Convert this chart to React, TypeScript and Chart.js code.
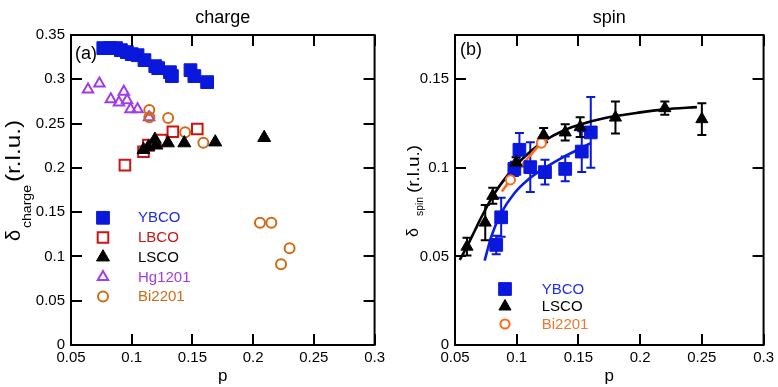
import React, { useEffect, useRef } from "react";
import { Chart, registerables } from "chart.js";

Chart.register(...registerables);

const FONT = "'Liberation Sans', Arial, Helvetica, sans-serif";

// ---------- axis ticks ----------
const pTicks = [0.05, 0.1, 0.15, 0.2, 0.25, 0.3];
const chargeTicks = [0, 0.05, 0.1, 0.15, 0.2, 0.25, 0.3, 0.35];
const spinTicks = [0, 0.05, 0.1, 0.15];

// ---------- panel (a): charge ----------
const ybcoChargeP = [0.0766, 0.0823, 0.0871, 0.0911, 0.096, 0.1, 0.1048, 0.1105, 0.1194, 0.1218, 0.1315, 0.1331, 0.1484, 0.1516, 0.1621];
const ybcoChargeD = [0.3352, 0.3352, 0.3352, 0.3329, 0.3307, 0.3284, 0.3272, 0.3216, 0.3148, 0.3126, 0.308, 0.3036, 0.3103, 0.3036, 0.2968];
const lbcoChargeP = [0.0944, 0.1097, 0.1137, 0.1244, 0.1339, 0.154];
const lbcoChargeD = [0.2031, 0.2182, 0.2257, 0.2314, 0.2407, 0.2438];
const lscoChargeP = [0.1097, 0.1137, 0.1191, 0.1204, 0.1298, 0.1433, 0.1688, 0.2091];
const lscoChargeD = [0.2205, 0.2235, 0.232, 0.2255, 0.228, 0.228, 0.229, 0.234];
const hgChargeP = [0.064, 0.0734, 0.0828, 0.0895, 0.0935, 0.0962, 0.099, 0.1048, 0.1143];
const hgChargeD = [0.2886, 0.2953, 0.2775, 0.2739, 0.2858, 0.2764, 0.2663, 0.2663, 0.257];
const biChargeP = [0.1145, 0.1145, 0.13, 0.144, 0.159, 0.2056, 0.215, 0.223, 0.23];
const biChargeD = [0.2652, 0.2572, 0.2562, 0.2403, 0.2284, 0.138, 0.138, 0.0911, 0.1092];

// ---------- panel (b): spin ----------
const ybcoSpinP = [0.0834, 0.0874, 0.0981, 0.1022, 0.111, 0.1229, 0.1393, 0.1527, 0.16];
const ybcoSpinD = [0.0565, 0.0721, 0.0994, 0.1102, 0.1004, 0.0976, 0.0994, 0.1092, 0.12];
const ybcoSpinErr = [0.0052, 0.011, 0.004, 0.0095, 0.014, 0.007, 0.007, 0.0115, 0.02];
const lscoSpinP = [0.0597, 0.0745, 0.0806, 0.0995, 0.1218, 0.1393, 0.1514, 0.18, 0.22, 0.25];
const lscoSpinD = [0.0555, 0.0691, 0.0842, 0.103, 0.1185, 0.12, 0.123, 0.1284, 0.1337, 0.1275];
const lscoSpinErr = [0.005, 0.01, 0.0045, 0.003, 0.004, 0.0046, 0.0056, 0.009, 0.0037, 0.009];
const biSpinP = [0.0949, 0.12];
const biSpinD = [0.0932, 0.114];

// fitted guide curves
const lscoFitP = [0.0538, 0.06, 0.066, 0.0713, 0.0806, 0.09, 0.0995, 0.1116, 0.1218, 0.1393, 0.1514, 0.1707, 0.2, 0.22, 0.246];
const lscoFitD = [0.048, 0.056, 0.0645, 0.072, 0.084, 0.0935, 0.1015, 0.1095, 0.115, 0.1215, 0.1245, 0.128, 0.1313, 0.133, 0.1343];
const ybcoFitP = [0.074, 0.0794, 0.0874, 0.0981, 0.1089, 0.1223, 0.1385, 0.152, 0.16];
const ybcoFitD = [0.0476, 0.0612, 0.0744, 0.0857, 0.0932, 0.0998, 0.1064, 0.1111, 0.114];
const biFitP = [0.0879, 0.0949, 0.1075, 0.12, 0.125];
const biFitD = [0.0866, 0.0932, 0.1042, 0.114, 0.1168];

// ---------- colours ----------
const BLUE = "#0a18dc";
const RED = "#cc1414";
const PURPLE = "#a23ce6";
const ORANGE = "#d26a14";
const ORANGE2 = "#ff6a1a";
const BLACK = "#000000";

type Marker = { style: "rect" | "triangle" | "circle"; r: number; fill: string | null; stroke: string; lw: number };

const mYbcoA: Marker = { style: "rect", r: 9, fill: BLUE, stroke: BLUE, lw: 1 };
const mLbcoA: Marker = { style: "rect", r: 7.5, fill: null, stroke: RED, lw: 2 };
const mLscoA: Marker = { style: "triangle", r: 7.5, fill: BLACK, stroke: BLACK, lw: 1 };
const mHgA: Marker = { style: "triangle", r: 6, fill: null, stroke: PURPLE, lw: 2 };
const mBiA: Marker = { style: "circle", r: 5, fill: null, stroke: ORANGE, lw: 2 };
const mYbcoB: Marker = { style: "rect", r: 9, fill: BLUE, stroke: BLUE, lw: 1 };
const mLscoB: Marker = { style: "triangle", r: 7, fill: BLACK, stroke: BLACK, lw: 1 };
const mBiB: Marker = { style: "circle", r: 4.6, fill: "#ffffff", stroke: ORANGE2, lw: 2 };

const fmt = (v: any) => String(parseFloat(Number(v).toFixed(3)));
const pts = (xs: number[], ys: number[]) => xs.map((x, i) => ({ x, y: ys[i] }));

function pointDataset(label: string, xs: number[], ys: number[], m: Marker, order: number, errs?: number[], errColor?: string) {
  return {
    type: "scatter",
    label,
    data: pts(xs, ys),
    pointStyle: m.style,
    pointRadius: m.r,
    pointHoverRadius: m.r,
    pointBackgroundColor: m.fill || "rgba(0,0,0,0)",
    pointBorderColor: m.stroke,
    pointBorderWidth: m.lw,
    showLine: false,
    order,
    errors: errs,
    errColor,
  } as any;
}

function lineDataset(label: string, xs: number[], ys: number[], color: string, order: number) {
  return {
    type: "line",
    label,
    data: pts(xs, ys),
    borderColor: color,
    borderWidth: 2.6,
    pointRadius: 0,
    showLine: true,
    fill: false,
    cubicInterpolationMode: "monotone",
    order,
  } as any;
}

function drawMarker(ctx: CanvasRenderingContext2D, m: Marker, x: number, y: number) {
  ctx.save();
  ctx.beginPath();
  if (m.style === "rect") {
    const s = Math.SQRT1_2 * m.r;
    ctx.rect(x - s, y - s, 2 * s, 2 * s);
  } else if (m.style === "triangle") {
    for (let i = 0; i < 3; i++) {
      const a = (i * 2 * Math.PI) / 3;
      const px = x + Math.sin(a) * m.r;
      const py = y - Math.cos(a) * m.r;
      if (i === 0) ctx.moveTo(px, py);
      else ctx.lineTo(px, py);
    }
    ctx.closePath();
  } else {
    ctx.arc(x, y, m.r, 0, Math.PI * 2);
  }
  if (m.fill) {
    ctx.fillStyle = m.fill;
    ctx.fill();
  }
  ctx.lineWidth = m.lw;
  ctx.strokeStyle = m.stroke;
  ctx.stroke();
  ctx.restore();
}

type LegendItem = { label: string; color: string; marker: Marker };
type Piece = { text: string; size: number; start: number; end?: number; base: number };
type PanelCfg = {
  title: string;
  tag: string;
  tagX: number;
  tagY: number;
  legend: LegendItem[];
  legendMarkerX: number;
  legendTextX: number;
  legendY: number;
  legendStep: number;
  yTitle: Piece[];
};

function makeDecorPlugin(cfg: PanelCfg) {
  return {
    id: "decor",
    beforeDatasetsDraw(chart: any) {
      const { ctx, scales } = chart;
      const xs = scales.x;
      const ys = scales.y;
      ctx.save();
      chart.data.datasets.forEach((ds: any) => {
        if (!ds.errors) return;
        ctx.strokeStyle = ds.errColor || "#000";
        ctx.lineWidth = 2;
        ctx.beginPath();
        ds.data.forEach((p: any, i: number) => {
          const e = ds.errors[i];
          const px = xs.getPixelForValue(p.x);
          const y1 = ys.getPixelForValue(p.y + e);
          const y2 = ys.getPixelForValue(p.y - e);
          ctx.moveTo(px, y1);
          ctx.lineTo(px, y2);
          ctx.moveTo(px - 4.5, y1);
          ctx.lineTo(px + 4.5, y1);
          ctx.moveTo(px - 4.5, y2);
          ctx.lineTo(px + 4.5, y2);
        });
        ctx.stroke();
      });
      ctx.restore();
    },
    afterDraw(chart: any) {
      const { ctx, chartArea: a, scales } = chart;
      const xs = scales.x;
      const ys = scales.y;
      ctx.save();
      // frame with inward ticks
      ctx.strokeStyle = "#000";
      ctx.lineWidth = 2;
      ctx.strokeRect(a.left, a.top, a.right - a.left, a.bottom - a.top);
      const L = 11;
      ctx.beginPath();
      xs.ticks.forEach((t: any) => {
        const px = Math.round(xs.getPixelForValue(t.value));
        ctx.moveTo(px, a.bottom);
        ctx.lineTo(px, a.bottom - L);
        ctx.moveTo(px, a.top);
        ctx.lineTo(px, a.top + L);
      });
      ys.ticks.forEach((t: any) => {
        const py = Math.round(ys.getPixelForValue(t.value));
        ctx.moveTo(a.left, py);
        ctx.lineTo(a.left + L, py);
        ctx.moveTo(a.right, py);
        ctx.lineTo(a.right - L, py);
      });
      ctx.stroke();

      // title
      ctx.fillStyle = "#000";
      ctx.textAlign = "center";
      ctx.textBaseline = "alphabetic";
      ctx.font = `18px ${FONT}`;
      ctx.fillText(cfg.title, (a.left + a.right) / 2, 22.5);

      // panel tag
      ctx.textAlign = "left";
      ctx.fillText(cfg.tag, cfg.tagX, cfg.tagY);

      // legend
      ctx.font = `15px ${FONT}`;
      ctx.textBaseline = "middle";
      cfg.legend.forEach((it, i) => {
        const y = cfg.legendY + i * cfg.legendStep;
        drawMarker(ctx, it.marker, cfg.legendMarkerX, y);
        ctx.fillStyle = it.color;
        ctx.fillText(it.label, cfg.legendTextX, y + 0.5);
      });

      // rotated y-axis title with subscript
      ctx.fillStyle = "#000";
      ctx.textBaseline = "alphabetic";
      cfg.yTitle.forEach((pc) => {
        ctx.save();
        ctx.translate(pc.base, pc.start);
        ctx.rotate(-Math.PI / 2);
        ctx.font = `${pc.size}px ${FONT}`;
        if (pc.end !== undefined) {
          const w = ctx.measureText(pc.text).width;
          ctx.scale((pc.start - pc.end) / w, 1);
        }
        ctx.fillText(pc.text, 0, 0);
        ctx.restore();
      });
      ctx.restore();
    },
  };
}

function makeScales(yTicks: number[], yMax: number, yWidth: number) {
  const tickFont = { family: FONT, size: 15 };
  return {
    x: {
      type: "linear",
      min: 0.05,
      max: 0.3,
      afterBuildTicks: (s: any) => {
        s.ticks = pTicks.map((v) => ({ value: v }));
      },
      afterFit: (s: any) => {
        s.height = 42;
      },
      grid: { display: false, drawTicks: false },
      border: { display: false },
      ticks: { color: "#000", font: tickFont, padding: 4, maxRotation: 0, autoSkip: false, callback: fmt },
      title: {
        display: true,
        text: "p",
        color: "#000",
        font: { family: FONT, size: 17, lineHeight: 1.3 },
        padding: { top: 0, bottom: 0 },
      },
    },
    y: {
      type: "linear",
      min: 0,
      max: yMax,
      afterBuildTicks: (s: any) => {
        s.ticks = yTicks.map((v) => ({ value: v }));
      },
      afterFit: (s: any) => {
        s.width = yWidth;
      },
      grid: { display: false, drawTicks: false },
      border: { display: false },
      ticks: { color: "#000", font: tickFont, padding: 6, autoSkip: false, callback: fmt },
    },
  };
}

function chargeConfig(): any {
  const cfg: PanelCfg = {
    title: "charge",
    tag: "(a)",
    tagX: 75,
    tagY: 58.5,
    legend: [
      { label: "YBCO", color: "#1e2ee6", marker: mYbcoA },
      { label: "LBCO", color: RED, marker: mLbcoA },
      { label: "LSCO", color: "#000", marker: mLscoA },
      { label: "Hg1201", color: PURPLE, marker: mHgA },
      { label: "Bi2201", color: ORANGE, marker: mBiA },
    ],
    legendMarkerX: 103,
    legendTextX: 138,
    legendY: 217.8,
    legendStep: 19.7,
    yTitle: [
      { text: "δ", size: 20, start: 241, base: 19.5 },
      { text: "charge", size: 12, start: 228, end: 185, base: 30.5 },
      { text: "(r.l.u.)", size: 20, start: 182, end: 120, base: 19.5 },
    ],
  };
  return {
    type: "scatter",
    data: {
      datasets: [
        pointDataset("YBCO", ybcoChargeP, ybcoChargeD, mYbcoA, 4),
        pointDataset("LBCO", lbcoChargeP, lbcoChargeD, mLbcoA, 2),
        pointDataset("LSCO", lscoChargeP, lscoChargeD, mLscoA, 0),
        pointDataset("Hg1201", hgChargeP, hgChargeD, mHgA, 3),
        pointDataset("Bi2201", biChargeP, biChargeD, mBiA, 1),
      ],
    },
    options: {
      responsive: false,
      animation: false,
      events: [],
      layout: { padding: { top: 35, right: 9, bottom: 0, left: 0 } },
      plugins: { legend: { display: false }, tooltip: { enabled: false }, title: { display: false } },
      scales: makeScales(chargeTicks, 0.35, 71),
    },
    plugins: [makeDecorPlugin(cfg)],
  };
}

function spinConfig(): any {
  const off = 389;
  const cfg: PanelCfg = {
    title: "spin",
    tag: "(b)",
    tagX: 460 - off,
    tagY: 54.5,
    legend: [
      { label: "YBCO", color: "#1e2ee6", marker: mYbcoB },
      { label: "LSCO", color: "#000", marker: mLscoB },
      { label: "Bi2201", color: "#f0762c", marker: mBiB },
    ],
    legendMarkerX: 505 - off,
    legendTextX: 541.7 - off,
    legendY: 289,
    legendStep: 17.5,
    yTitle: [
      { text: "δ", size: 16, start: 237, base: 418 - off },
      { text: "spin", size: 11, start: 216, end: 197, base: 422.5 - off },
      { text: "(r.l.u.)", size: 16, start: 193, end: 145, base: 418.5 - off },
    ],
  };
  return {
    type: "scatter",
    data: {
      datasets: [
        pointDataset("YBCO", ybcoSpinP, ybcoSpinD, mYbcoB, 2, ybcoSpinErr, BLUE),
        pointDataset("LSCO", lscoSpinP, lscoSpinD, mLscoB, 0, lscoSpinErr, BLACK),
        pointDataset("Bi2201", biSpinP, biSpinD, mBiB, 1),
        lineDataset("LSCO fit", lscoFitP, lscoFitD, BLACK, 5),
        lineDataset("YBCO fit", ybcoFitP, ybcoFitD, "#0a1ee6", 4),
        lineDataset("Bi2201 fit", biFitP, biFitD, ORANGE2, 3),
      ],
    },
    options: {
      responsive: false,
      animation: false,
      events: [],
      layout: { padding: { top: 35, right: 13, bottom: 0, left: 0 } },
      plugins: { legend: { display: false }, tooltip: { enabled: false }, title: { display: false } },
      scales: makeScales(spinTicks, 0.175, 66),
    },
    plugins: [makeDecorPlugin(cfg)],
  };
}

function Panel({ left, make }: { left: number; make: () => any }) {
  const ref = useRef<HTMLCanvasElement>(null);
  useEffect(() => {
    const chart = new Chart(ref.current as HTMLCanvasElement, make());
    return () => chart.destroy();
  }, [make]);
  return (
    <div style={{ position: "absolute", left, top: 0, width: 389, height: 387 }}>
      <canvas ref={ref} width={389} height={387} style={{ display: "block", width: 389, height: 387 }} />
    </div>
  );
}

export default function App() {
  return (
    <div style={{ position: "fixed", left: 0, top: 0, width: 778, height: 387, background: "#ffffff", overflow: "hidden" }}>
      <Panel left={0} make={chargeConfig} />
      <Panel left={389} make={spinConfig} />
    </div>
  );
}
